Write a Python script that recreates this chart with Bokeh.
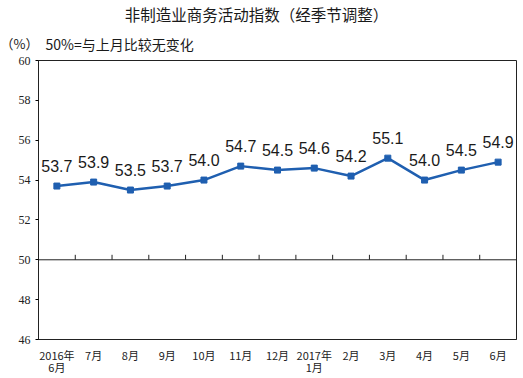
from bokeh.plotting import figure
from bokeh.layouts import column
from bokeh.models import LabelSet, ColumnDataSource, FixedTicker, Span, Range1d
from bokeh.core.properties import value
from bokeh.embed import file_html
from bokeh.resources import INLINE

months = ["2016年\n6月", "7月", "8月", "9月", "10月", "11月", "12月",
          "2017年\n1月", "2月", "3月", "4月", "5月", "6月"]
values = [53.7, 53.9, 53.5, 53.7, 54.0, 54.7, 54.5, 54.6, 54.2, 55.1, 54.0, 54.5, 54.9]
y_ticks = [46, 48, 50, 52, 54, 56, 58, 60]
title_text = "非制造业商务活动指数（经季节调整）"
unit_text = "（%）"
note_text = "50%=与上月比较无变化"

n = len(months)
xs = list(range(n))

# ---- header with the titles (pixel coordinates from the top-left) ----
W, HEAD = 523, 52
h = figure(width=W, height=HEAD, output_backend="svg", toolbar_location=None,
           x_range=Range1d(0, W), y_range=Range1d(HEAD, 0),
           x_axis_location=None, y_axis_location=None,
           min_border=0, min_border_left=0, min_border_right=0,
           min_border_top=0, min_border_bottom=0)
h.frame_align = False
h.grid.visible = False
h.outline_line_color = None
h.background_fill_color = "white"
h.border_fill_color = "white"
h.text(x=[256], y=[13], text=[title_text], text_align="center", text_baseline="middle",
       text_font=value("Noto Sans CJK SC"), text_font_size="15.5px", text_color="#1a1a1a")
h.text(x=[0], y=[43], text=[unit_text], text_align="left", text_baseline="middle",
       text_font=value("Noto Sans CJK SC"), text_font_size="13px", text_color="#1a1a1a")
h.text(x=[45], y=[43], text=[note_text], text_align="left", text_baseline="middle",
       text_font=value("Noto Sans CJK SC"), text_font_size="14px", text_color="#1a1a1a")

# ---- main chart ----
p = figure(width=W, height=378 - HEAD, output_backend="svg", toolbar_location=None,
           x_range=Range1d(-0.5, n - 0.5), y_range=Range1d(46, 60),
           min_border_left=38, min_border_right=7, min_border_top=8, min_border_bottom=39)
p.frame_align = False
p.background_fill_color = "white"
p.border_fill_color = "white"
p.outline_line_color = "#222222"
p.outline_line_width = 1
p.xgrid.visible = False
p.ygrid.visible = False

# y axis
p.yaxis.ticker = FixedTicker(ticks=y_ticks)
p.yaxis.axis_line_color = "#222222"
p.yaxis.major_tick_out = 3
p.yaxis.major_tick_in = 0
p.yaxis.minor_tick_line_color = None
p.yaxis.major_label_text_font = "Liberation Serif"
p.yaxis.major_label_text_font_size = "12px"
p.yaxis.major_label_text_color = "#222222"
p.yaxis.major_label_standoff = 5

# x axis
p.xaxis.ticker = FixedTicker(ticks=xs)
p.xaxis.major_label_overrides = {i: m for i, m in enumerate(months)}
p.xaxis.axis_line_color = "#222222"
p.xaxis.major_tick_line_color = None
p.xaxis.major_tick_out = 0
p.xaxis.major_tick_in = 0
p.xaxis.minor_tick_line_color = None
p.xaxis.major_label_text_font = "Noto Sans CJK SC"
p.xaxis.major_label_text_font_size = "11px"
p.xaxis.major_label_text_line_height = 0.8
p.xaxis.major_label_text_color = "#222222"
p.xaxis.major_label_standoff = 7

# 50 line with category boundary ticks
p.add_layout(Span(location=50, dimension="width", line_color="#222222", line_width=1))
bounds = [i + 0.5 for i in range(n - 1)]
p.segment(x0=bounds, y0=[50] * len(bounds), x1=bounds, y1=[50.25] * len(bounds),
          line_color="#222222", line_width=1)

src = ColumnDataSource(dict(x=xs, y=values, t=[f"{v:.1f}" for v in values]))
p.line("x", "y", source=src, line_color="#1F5FB0", line_width=2.5)
p.scatter("x", "y", source=src, marker="square", size=6, fill_color="#1F5FB0", line_color="#1F5FB0")

p.add_layout(LabelSet(x="x", y="y", text="t", source=src, y_offset=20,
                      text_align="center", text_baseline="middle",
                      text_font=value("Liberation Sans"), text_font_size=value("16px"),
                      text_color=value("#1a1a1a")))

layout = column(h, p, spacing=0)
open("out.html", "w").write(file_html(layout, INLINE))
